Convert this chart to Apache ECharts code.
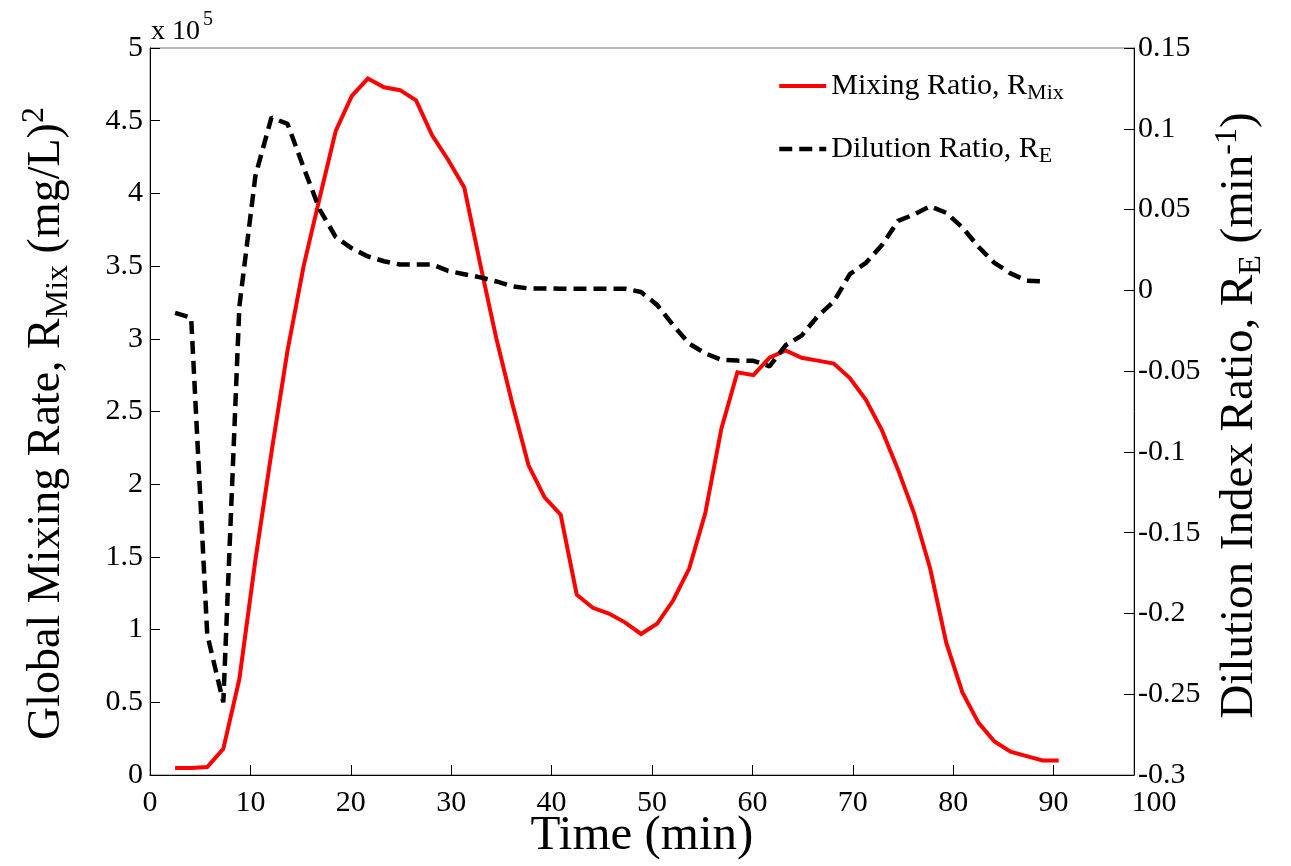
<!DOCTYPE html>
<html>
<head>
<meta charset="utf-8">
<script src="https://cdn.jsdelivr.net/npm/echarts@6/dist/echarts.min.js"></script>
<style>
  html, body { margin: 0; padding: 0; background: #fff; }
  #chart { width: 1291px; height: 866px; }
</style>
</head>
<body>
<div id="chart"></div>
<script>
// Sampling times (min)
const times = [2.5, 4.1, 5.7, 7.3, 8.9, 10.5, 12.1, 13.7, 15.3, 16.9, 18.5, 20.1, 21.7, 23.3,
  24.9, 26.5, 28.1, 29.7, 31.3, 32.9, 34.5, 36.1, 37.7, 39.3, 40.9, 42.5, 44.1, 45.7, 47.3,
  48.9, 50.5, 52.1, 53.7, 55.3, 56.9, 58.5, 60.1, 61.7, 63.3, 64.9, 66.5, 68.1, 69.7, 71.3,
  72.9, 74.5, 76.1, 77.7, 79.3, 80.9, 82.5, 84.1, 85.7, 87.3, 88.9, 90.5];

// Global mixing rate R_Mix, (mg/L)^2
const mixingRate = [4800, 4800, 5500, 18000, 66000, 148000, 222000, 292000, 350000, 397000,
  443000, 467000, 479000, 473000, 471000, 464000, 440000, 423000, 404000, 351000, 300000,
  255000, 213000, 191000, 179000, 124000, 115000, 111000, 105000, 97000, 104000, 120000,
  142000, 180000, 238000, 277000, 275000, 287000, 292000, 287000, 285000, 283000, 273000,
  258000, 237000, 210000, 180000, 142000, 91000, 57000, 36000, 23000, 16000, 13000, 10000, 10000];

// Dilution index ratio R_E, 1/min (last sample not available)
const dilutionRatio = [-0.014, -0.017, -0.213, -0.255, -0.010, 0.071, 0.107, 0.103, 0.076,
  0.050, 0.033, 0.026, 0.021, 0.018, 0.016, 0.016, 0.016, 0.012, 0.010, 0.008, 0.0055,
  0.0025, 0.0012, 0.0012, 0.001, 0.001, 0.001, 0.001, 0.001, -0.001, -0.009, -0.0215,
  -0.033, -0.039, -0.043, -0.0435, -0.0436, -0.047, -0.034, -0.028, -0.016, -0.007, 0.010,
  0.017, 0.028, 0.043, 0.047, 0.052, 0.048, 0.039, 0.027, 0.017, 0.0105, 0.006, 0.0055];

// Axis ranges / ticks
const timeTickLabels = [0, 10, 20, 30, 40, 50, 60, 70, 80, 90, 100];
const timeBoxMax = 98;
const mixRange = { min: 0, max: 500000, step: 50000, scale: 1e5 };
const dilRange = { min: -0.3, max: 0.15, step: 0.05 };

const FONT = 'Liberation Serif';
const DASH = [13, 7];

const pairs = (xs, ys) => ys.map((v, i) => [xs[i], v]);

const chart = echarts.init(document.getElementById('chart'), null, { renderer: 'canvas' });

const titleRich = {
  sub: { fontFamily: FONT, fontSize: 32, lineHeight: 30, verticalAlign: 'bottom', color: '#000' },
  sup: { fontFamily: FONT, fontSize: 32, lineHeight: 30, verticalAlign: 'top', color: '#000' }
};
const legendRich = {
  sub: { fontFamily: FONT, fontSize: 22, lineHeight: 20, verticalAlign: 'bottom', color: '#000' }
};

chart.setOption({
  animation: false,
  backgroundColor: '#fff',
  title: {
    text: 'x 10{sup|5}',
    left: 151, top: 10, padding: 0,
    textStyle: {
      fontFamily: FONT, fontSize: 28, fontWeight: 'normal', color: '#000', lineHeight: 44,
      rich: { sup: { fontFamily: FONT, fontSize: 20, lineHeight: 16, verticalAlign: 'top', color: '#000', padding: [0, 0, 0, 3] } }
    }
  },
  legend: {
    orient: 'vertical',
    left: 777, top: 68, padding: 0,
    itemWidth: 47, itemHeight: 36, itemGap: 27,
    itemStyle: { opacity: 0, borderWidth: 0 },
    data: [
      { name: 'Mixing Ratio', lineStyle: { color: '#ff0000', width: 4, type: 'solid' } },
      { name: 'Dilution Ratio', lineStyle: { color: '#000', width: 4.5, type: DASH } }
    ],
    formatter: name => name === 'Mixing Ratio' ? 'Mixing Ratio, R{sub|Mix}' : 'Dilution Ratio, R{sub|E}',
    textStyle: { fontFamily: FONT, fontSize: 30, lineHeight: 36, color: '#000', rich: legendRich }
  },
  grid: [
    { left: 150, top: 48, width: 984, height: 732, show: true, borderColor: '#777', borderWidth: 1, backgroundColor: 'transparent' },
    { left: 150, top: 48, width: 1004, height: 732, show: false }
  ],
  xAxis: [
    {
      gridIndex: 0, type: 'value', min: 0, max: timeBoxMax, interval: 10,
      axisLine: { show: true, onZero: false, lineStyle: { color: '#000', width: 1 } },
      axisTick: { show: true, inside: true, length: 10, lineStyle: { color: '#000' } },
      axisLabel: { show: false },
      splitLine: { show: false },
      name: 'Time (min)', nameLocation: 'middle', nameGap: 37,
      nameTextStyle: { fontFamily: FONT, fontSize: 49, color: '#000' }
    },
    {
      gridIndex: 1, type: 'value', min: timeTickLabels[0], max: timeTickLabels[timeTickLabels.length - 1],
      interval: timeTickLabels[1] - timeTickLabels[0],
      axisLine: { show: false }, axisTick: { show: false }, splitLine: { show: false },
      axisLabel: { show: true, margin: 8, fontFamily: FONT, fontSize: 30, color: '#000' }
    }
  ],
  yAxis: [
    {
      gridIndex: 0, type: 'value', position: 'left',
      min: mixRange.min, max: mixRange.max, interval: mixRange.step,
      axisLine: { show: true, onZero: false, lineStyle: { color: '#000', width: 1 } },
      axisTick: { show: true, inside: true, length: 10, lineStyle: { color: '#000' } },
      axisLabel: { margin: 7, fontFamily: FONT, fontSize: 30, color: '#000',
        formatter: v => String(+(v / mixRange.scale).toFixed(2)) },
      splitLine: { show: false },
      name: 'Global Mixing Rate, R{sub|Mix} (mg/L){sup|2}',
      nameLocation: 'middle', nameRotate: 90, nameGap: 75,
      nameTextStyle: { fontFamily: FONT, fontSize: 46, lineHeight: 56, color: '#000', rich: titleRich, padding: [0, 24, 0, 0] }
    },
    {
      gridIndex: 0, type: 'value', position: 'right',
      min: dilRange.min, max: dilRange.max, interval: dilRange.step,
      axisLine: { show: true, onZero: false, lineStyle: { color: '#000', width: 1 } },
      axisTick: { show: true, inside: true, length: 10, lineStyle: { color: '#000' } },
      axisLabel: { margin: 4, fontFamily: FONT, fontSize: 30, color: '#000',
        formatter: v => String(+v.toFixed(2)) },
      splitLine: { show: false },
      name: 'Dilution Index Ratio, R{sub|E} (min{sup|-1})',
      nameLocation: 'middle', nameRotate: 90, nameGap: 66,
      nameTextStyle: { fontFamily: FONT, fontSize: 47, lineHeight: 56, color: '#000', rich: titleRich, padding: [0, 8, 0, 0] }
    },
    { gridIndex: 1, type: 'value', min: 0, max: 1, show: false }
  ],
  series: [
    {
      name: 'Mixing Ratio', type: 'line', xAxisIndex: 0, yAxisIndex: 0,
      data: pairs(times, mixingRate), symbol: 'none', smooth: false,
      lineStyle: { color: '#ff0000', width: 4, join: 'miter' },
      itemStyle: { color: '#ff0000' }, z: 3
    },
    {
      name: 'Dilution Ratio', type: 'line', xAxisIndex: 0, yAxisIndex: 1,
      data: pairs(times, dilutionRatio), symbol: 'none', smooth: false,
      lineStyle: { color: '#000', width: 4.5, type: DASH },
      itemStyle: { color: '#000' }, z: 4
    }
  ]
});
</script>
</body>
</html>
